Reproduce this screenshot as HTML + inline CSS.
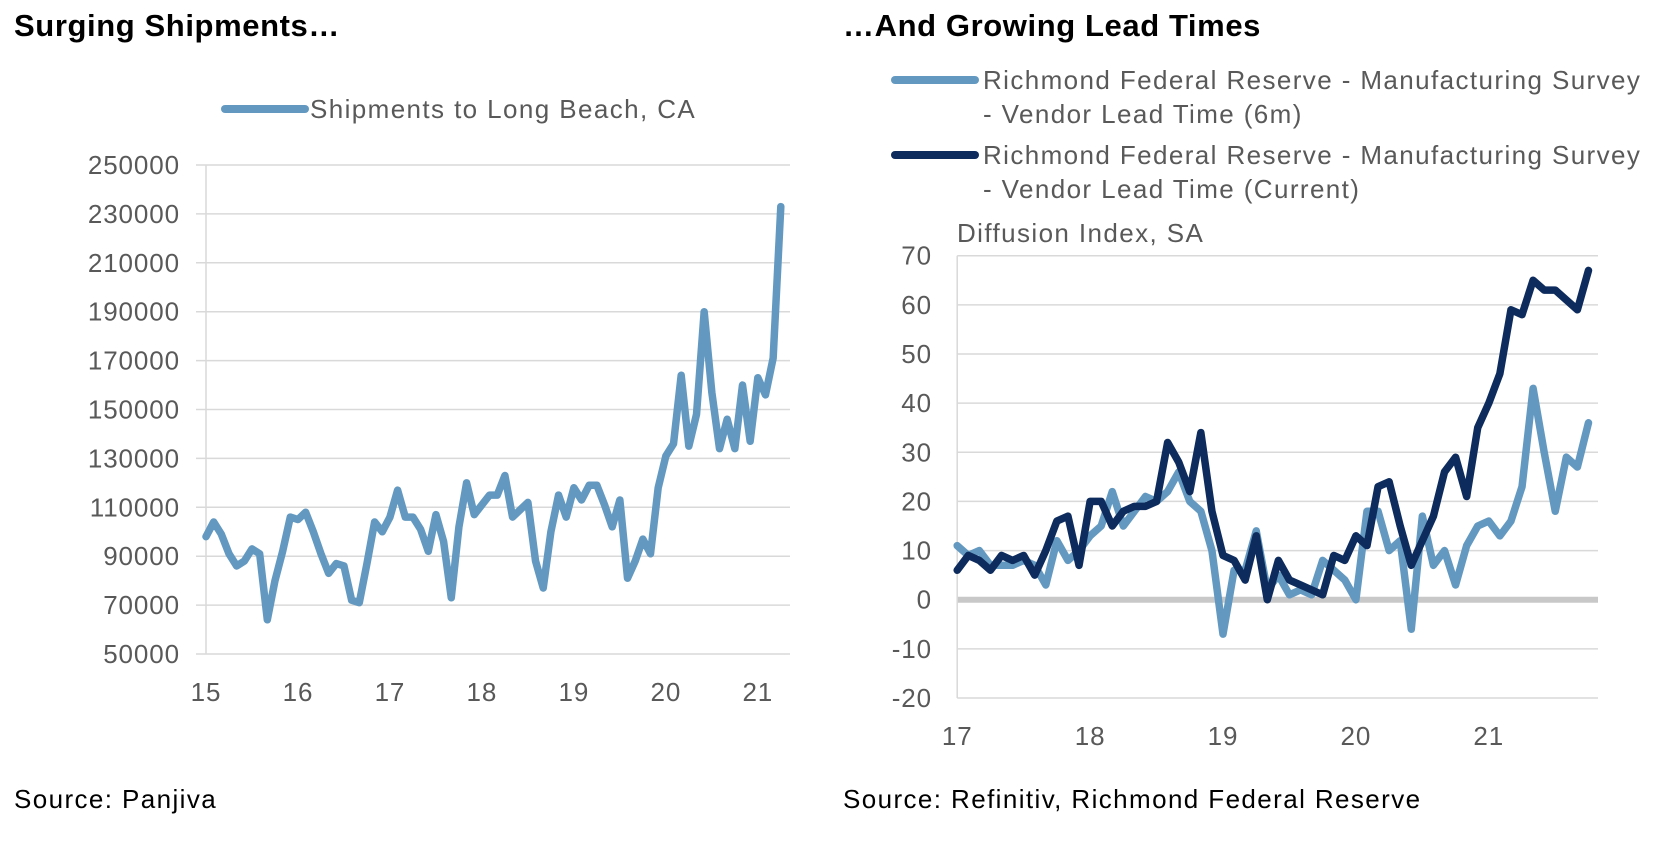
<!DOCTYPE html>
<html><head><meta charset="utf-8"><style>
body{margin:0;background:#fff;width:1664px;height:840px;overflow:hidden;font-family:"Liberation Sans",sans-serif}
svg text{font-family:"Liberation Sans",sans-serif}
.t{font-size:26px;letter-spacing:1.4px;fill:#595959}
.k{font-size:26px;letter-spacing:0.9px;fill:#595959}
</style></head><body>
<svg id="c" width="1664" height="840" viewBox="0 0 1664 840">
<text x="14" y="36" font-size="31" letter-spacing="0.6" font-weight="bold" fill="#000">Surging Shipments…</text>
<text x="843" y="36" font-size="31" letter-spacing="0.6" font-weight="bold" fill="#000">…And Growing Lead Times</text>
<line x1="225" y1="109" x2="305" y2="109" stroke="#6399c0" stroke-width="8" stroke-linecap="round"/>
<text x="310" y="118" class="t">Shipments to Long Beach, CA</text>
<line x1="895" y1="80" x2="975" y2="80" stroke="#6399c0" stroke-width="8" stroke-linecap="round"/>
<text x="983" y="89" class="t">Richmond Federal Reserve - Manufacturing Survey</text>
<text x="983" y="123" class="t">- Vendor Lead Time (6m)</text>
<line x1="895" y1="155" x2="975" y2="155" stroke="#0d2b5c" stroke-width="8" stroke-linecap="round"/>
<text x="983" y="164" class="t">Richmond Federal Reserve - Manufacturing Survey</text>
<text x="983" y="198" class="t">- Vendor Lead Time (Current)</text>
<text x="957" y="242" class="t">Diffusion Index, SA</text>
<text x="14" y="808" class="t" style="fill:#000">Source: Panjiva</text>
<text x="843" y="808" class="t" style="fill:#000">Source: Refinitiv, Richmond Federal Reserve</text>
<g id="left"></g>
<g id="right"></g>
</svg>
<script>
const shipTicks=[50000,70000,90000,110000,130000,150000,170000,190000,210000,230000,250000];
const shipYearLabels=["15","16","17","18","19","20","21"];
const shipments=[98000,104000,99000,91000,86000,88000,93000,91000,64000,80000,92000,106000,
105000,108000,100000,91000,83000,87000,86000,72000,71000,87000,104000,100000,
106000,117000,106000,106000,101000,92000,107000,96000,73000,102000,120000,107000,
111000,115000,115000,123000,106000,109000,112000,88000,77000,100000,115000,106000,
118000,113000,119000,119000,111000,102000,113000,81000,88000,97000,91000,118000,
131000,136000,164000,135000,148000,190000,157000,134000,146000,134000,160000,137000,
163000,156000,171000,233000];
const leadTicks=[-20,-10,0,10,20,30,40,50,60,70];
const leadYearLabels=["17","18","19","20","21"];
const lead6m=[11,9,10,7,7,7,8,7,3,12,8,10,13,15,22,15,18,21,20,22,26,20,18,10,-7,6,6,14,2,5,1,2,1,8,6,4,0,18,18,10,12,-6,17,7,10,3,11,15,16,13,16,23,43,30,18,29,27,36];
const leadCurrent=[6,9,8,6,9,8,9,5,10,16,17,7,20,20,15,18,19,19,20,32,28,22,34,18,9,8,4,13,0,8,4,3,2,1,9,8,13,11,23,24,15,7,12,17,26,29,21,35,40,46,59,58,65,63,63,61,59,67];

const NS="http://www.w3.org/2000/svg";
function mk(parent,tag,attrs){const e=document.createElementNS(NS,tag);for(const k in attrs)e.setAttribute(k,attrs[k]);parent.appendChild(e);return e;}

(function(){
const g=document.getElementById('left');
const x0=206,yr=91.97,xr=790,yTop=165,yBot=654;
const X=i=>x0+yr*i/12;
const Y=v=>yBot-(v-50000)/200000*(yBot-yTop);
shipTicks.forEach(t=>{
 const l=mk(g,'line',{x1:x0-10,x2:xr,y1:Y(t),y2:Y(t),stroke:'#d9d9d9','stroke-width':1.5});
 
 
 const tx=mk(g,'text',{x:180,y:Y(t)+9,'text-anchor':'end','class':'k'});
 tx.textContent=t;
 
 
});
const ax=mk(g,'line',{x1:x0,x2:x0,y1:yTop,y2:yBot,stroke:'#d9d9d9','stroke-width':1.5});


shipYearLabels.forEach((s,i)=>{
 const tx=mk(g,'text',{x:X(i*12),y:701,'text-anchor':'middle','class':'k'});
 tx.textContent=s;
 
 
});
const p=mk(g,'polyline',{points:shipments.map((v,i)=>X(i)+','+Y(v)).join(' '),fill:'none',stroke:'#6399c0','stroke-width':7.5,'stroke-linejoin':'round','stroke-linecap':'round'});


})();

(function(){
const g=document.getElementById('right');
const x0=957.2,yr=132.9,xr=1598,yTop=255.7,yBot=698;
const X=i=>x0+yr*i/12;
const Y=v=>yBot-(v+20)/90*(yBot-yTop);
leadTicks.forEach(t=>{
 const l=mk(g,'line',{x1:x0,x2:xr,y1:Y(t),y2:Y(t),stroke:t===0?'#c8c8c8':'#d9d9d9','stroke-width':t===0?6:1.5});
 
 
 const tx=mk(g,'text',{x:932,y:Y(t)+9,'text-anchor':'end','class':'k'});
 tx.textContent=t;
 
 
});
const ax=mk(g,'line',{x1:x0,x2:x0,y1:yTop,y2:yBot,stroke:'#d9d9d9','stroke-width':1.5});


leadYearLabels.forEach((s,i)=>{
 const tx=mk(g,'text',{x:X(i*12),y:745,'text-anchor':'middle','class':'k'});
 tx.textContent=s;
 
 
});
const p1=mk(g,'polyline',{points:lead6m.map((v,i)=>X(i)+','+Y(v)).join(' '),fill:'none',stroke:'#6399c0','stroke-width':7.5,'stroke-linejoin':'round','stroke-linecap':'round'});


const p2=mk(g,'polyline',{points:leadCurrent.map((v,i)=>X(i)+','+Y(v)).join(' '),fill:'none',stroke:'#0d2b5c','stroke-width':7.5,'stroke-linejoin':'round','stroke-linecap':'round'});


})();
</script>
</body></html>
